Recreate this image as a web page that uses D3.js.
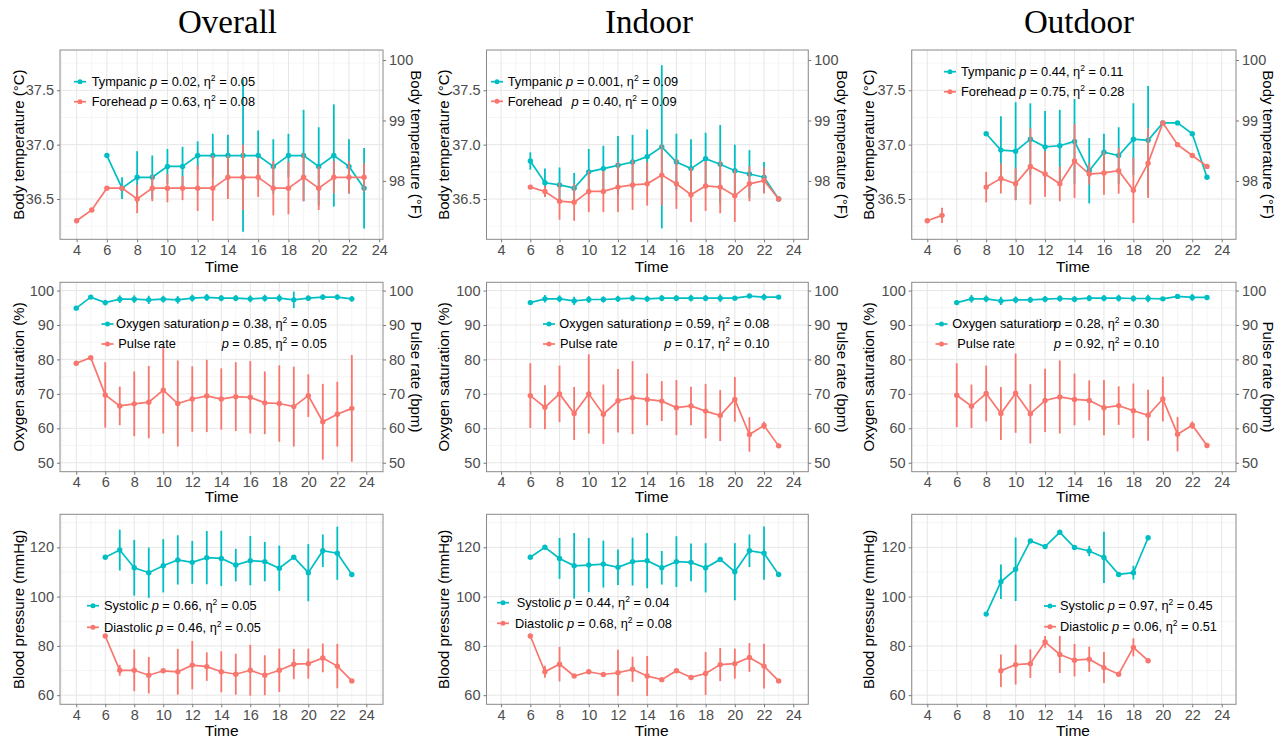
<!DOCTYPE html>
<html>
<head>
<meta charset="utf-8">
<script src="https://cdn.jsdelivr.net/npm/d3@7"></script>
<style>
  body { margin: 0; background: #fff; }
  text { font-family: "Liberation Sans", Arial, sans-serif; }
</style>
</head>
<body>
<div id="chart"></div>
<script>
// hours of the day, index 0 = 4h ... index 19 = 23h
const hours = d3.range(4, 24);

// ---- body temperature (°C), mean and SD ----
const tympOverall   = [null, null, 36.9, 36.6, 36.7, 36.7, 36.8, 36.8, 36.9, 36.9, 36.9, 36.9, 36.9, 36.8, 36.9, 36.9, 36.8, 36.9, 36.8, 36.6];
const tympOverallSd = [0, 0, 0, 0.1, 0.24, 0.2, 0.16, 0.18, 0.13, 0.2, 0.19, 0.7, 0.23, 0.25, 0.2, 0.42, 0.36, 0.47, 0.25, 0.37];
const foreOverall   = [36.3, 36.4, 36.6, 36.6, 36.5, 36.6, 36.6, 36.6, 36.6, 36.6, 36.7, 36.7, 36.7, 36.6, 36.6, 36.7, 36.6, 36.7, 36.7, 36.7];
const foreOverallSd = [0, 0, 0, 0, 0.13, 0.12, 0.13, 0.11, 0.21, 0.3, 0.2, 0.3, 0.18, 0.25, 0.24, 0.22, 0.2, 0.15, 0.15, 0.13];

const tympIndoor   = [null, null, 36.85, 36.65, 36.63, 36.6, 36.75, 36.78, 36.81, 36.84, 36.89, 36.98, 36.84, 36.78, 36.87, 36.82, 36.76, 36.73, 36.7, 36.5];
const tympIndoorSd = [0, 0, 0.08, 0.13, 0.16, 0.14, 0.21, 0.21, 0.27, 0.25, 0.25, 0.75, 0.26, 0.27, 0.24, 0.36, 0.24, 0.22, 0.14, 0];
const foreIndoor   = [null, null, 36.61, 36.57, 36.48, 36.47, 36.57, 36.57, 36.61, 36.63, 36.64, 36.72, 36.64, 36.54, 36.62, 36.61, 36.53, 36.64, 36.67, 36.5];
const foreIndoorSd = [0, 0, 0, 0.05, 0.17, 0.17, 0.19, 0.19, 0.23, 0.23, 0.2, 0.28, 0.23, 0.25, 0.23, 0.24, 0.24, 0.16, 0.12, 0];

const tympOutdoor   = [null, null, null, null, 37.1, 36.95, 36.94, 37.05, 36.98, 36.99, 37.03, 36.76, 36.93, 36.9, 37.05, 37.04, 37.2, 37.2, 37.1, 36.7];
const tympOutdoorSd = [0, 0, 0, 0, 0, 0.31, 0.45, 0.33, 0.33, 0.33, 0.39, 0.3, 0.17, 0.26, 0.33, 0.5, 0, 0, 0, 0];
const foreOutdoor   = [36.3, 36.35, null, null, 36.61, 36.69, 36.64, 36.8, 36.73, 36.64, 36.85, 36.73, 36.74, 36.76, 36.58, 36.83, 37.2, 37.0, 36.9, 36.8];
const foreOutdoorSd = [0, 0.07, 0, 0, 0.14, 0.14, 0.15, 0.35, 0.21, 0.16, 0.34, 0.1, 0.2, 0.21, 0.3, 0.32, 0, 0, 0, 0];

// ---- oxygen saturation (%) and pulse rate (bpm) ----
const o2Overall   = [94.9, 98.1, 96.5, 97.5, 97.5, 97.3, 97.5, 97.3, 97.8, 98.0, 97.8, 97.8, 97.6, 97.8, 97.8, 97.3, 97.8, 98.1, 98.1, 97.6];
const o2OverallSd = [0, 0, 0.8, 1.1, 1.1, 1.2, 1.0, 1.1, 1.0, 1.0, 0.9, 0.9, 1.0, 1.0, 1.1, 2.4, 0.8, 0.8, 0.8, 0.8];
const pulseOverall   = [78.9, 80.5, 69.7, 66.5, 67.1, 67.6, 71.1, 67.2, 68.5, 69.4, 68.5, 69.2, 69.0, 67.4, 67.2, 66.3, 69.5, 61.9, 64.1, 65.8];
const pulseOverallSd = [0, 0, 9.5, 5.6, 9.4, 10.5, 12.6, 12.5, 9.5, 10.5, 8.9, 10, 10.5, 9.1, 11.1, 11.6, 6.2, 11, 9.4, 15.5];

const o2Indoor   = [null, null, 96.5, 97.6, 97.6, 97.0, 97.4, 97.4, 97.6, 97.8, 97.6, 97.8, 97.8, 97.8, 97.8, 97.8, 97.8, 98.4, 98.1, 98.1];
const o2IndoorSd = [0, 0, 0.6, 1.1, 1.0, 1.2, 1.0, 0.9, 0.9, 0.9, 0.9, 0.9, 0.9, 1.0, 0.9, 1.1, 0, 0.5, 1.0, 0];
const pulseIndoor   = [null, null, 69.5, 66.1, 70.0, 64.3, 70.0, 64.1, 68.0, 68.9, 68.4, 67.9, 66.0, 66.5, 65.0, 63.7, 68.4, 58.2, 60.8, 54.9];
const pulseIndoorSd = [0, 0, 9.4, 6.4, 8.2, 7.7, 11.5, 8.6, 9.2, 10.6, 7.5, 5.8, 8.0, 5.6, 7.9, 7.4, 6.5, 5.0, 1.1, 0];

const o2Outdoor   = [null, null, 96.5, 97.6, 97.6, 97.0, 97.3, 97.3, 97.5, 97.7, 97.5, 97.8, 97.8, 97.8, 97.7, 97.7, 97.6, 98.3, 98.0, 98.0];
const o2OutdoorSd = [0, 0, 0.7, 1.1, 1.0, 1.2, 1.0, 0.9, 0.9, 0.9, 0.9, 0.9, 0.9, 1.0, 0.9, 1.1, 0, 0.5, 1.0, 0];
const pulseOutdoor   = [null, null, 69.6, 66.4, 70.1, 64.3, 70.2, 64.2, 68.1, 69.1, 68.4, 68.1, 66.0, 66.6, 65.1, 63.8, 68.5, 58.3, 60.9, 55.0];
const pulseOutdoorSd = [0, 0, 9.3, 6.3, 8.1, 7.7, 11.5, 8.6, 9.2, 10.6, 7.5, 5.8, 8.0, 5.6, 7.9, 7.4, 6.5, 5.0, 1.1, 0];

// ---- blood pressure (mmHg) ----
const sysOverall   = [null, null, 116, 118.9, 111.7, 109.7, 112.5, 114.9, 113.9, 115.8, 115.5, 112.8, 114.6, 114.2, 111.5, 116, 109.7, 118.6, 117.6, 109];
const sysOverallSd = [0, 0, 0, 8.3, 11.3, 10.2, 10.8, 10, 8.7, 10.8, 11.2, 6.6, 10, 8, 9.2, 0, 11.6, 6.6, 10.8, 0];
const diaOverall   = [null, null, 84, 70.1, 70.1, 68.1, 69.9, 69.5, 72.2, 71.6, 69.5, 68.5, 70.1, 68.1, 70.1, 72.6, 72.8, 75.1, 71.8, 65.8];
const diaOverallSd = [0, 0, 0, 2.2, 8.5, 7.4, 0, 9.3, 9.8, 5.8, 8.3, 8.3, 10.3, 8.1, 8.8, 6.1, 6.1, 5.8, 9, 0];

const sysIndoor   = [null, null, 116, 120, 115.5, 112.5, 112.8, 113.2, 111.9, 114.2, 114.6, 111.7, 114.2, 113.9, 111.7, 115.1, 110.1, 118.6, 117.6, 109];
const sysIndoorSd = [0, 0, 0, 0, 8.3, 13.3, 11, 9.5, 7.2, 9.7, 11.2, 6.8, 10.3, 7.7, 10, 0, 11.6, 6.6, 10.8, 0];
const diaIndoor   = [null, null, 84, 69.5, 72.6, 67.8, 69.5, 68.4, 69.1, 70.5, 67.8, 66.3, 69.9, 67.2, 68.8, 72.4, 72.8, 75.3, 71.8, 65.8];
const diaIndoorSd = [0, 0, 0, 2.4, 7, 0, 0, 0, 9.3, 5.1, 8.1, 0, 0, 0, 8.7, 6.7, 6.1, 5.8, 9.1, 0];

const sysOutdoor   = [null, null, null, null, 92.9, 106, 111.1, 122.6, 120.3, 126.1, 119.9, 118.5, 115.9, 109, 109.7, 123.9, null, null, null, null];
const sysOutdoorSd = [0, 0, 0, 0, 0, 7, 12.9, 0, 0, 0, 0, 2.1, 10.4, 0, 2.8, 0, 0, 0, 0, 0];
const diaOutdoor   = [null, null, null, null, null, 69.9, 72.4, 72.8, 81.6, 76.5, 74.2, 74.6, 71.2, 68.5, 79.4, 74, null, null, null, null];
const diaOutdoorSd = [0, 0, 0, 0, 0, 6.6, 8.1, 5.8, 2.4, 7.5, 6.6, 5.1, 6.3, 0, 3.7, 0, 0, 0, 0, 0];

// tick labels
const xTicks = d3.range(4, 25, 2);
const tempTicks = [36.5, 37.0, 37.5];
const tempFTicks = [98, 99, 100];
const o2Ticks = [50, 60, 70, 80, 90, 100];
const bpTicks = [60, 80, 100, 120];

const colTitles = ["Overall", "Indoor", "Outdoor"];

const teal = "#00BFC4", salmon = "#F8766D";
const W = 1285, H = 738;
const legendSize = 12.8;

const svg = d3.select("#chart").append("svg")
  .attr("width", W).attr("height", H);
svg.append("rect").attr("width", W).attr("height", H).attr("fill", "#fff");

// each column was a separate image, clip to it
const colClip = [[0, 424], [424, 855], [855, W]];
colClip.forEach(([a, b], i) => {
  svg.append("clipPath").attr("id", "col" + i)
    .append("rect").attr("x", a).attr("y", 0).attr("width", b - a).attr("height", H);
});

// layout of rows and columns
const rows = [
  { top: 50, bottom: 239.3, dom: [36.13, 37.87], ticks: tempTicks, minor: [36.25, 36.75, 37.25, 37.75],
    fmt: d3.format(".1f"), left: "Body temperature (°C)", right: "Body temperature (°F)",
    rTicks: tempFTicks, rConv: f => (f - 32) / 1.8, timeY: 266.7 },
  { top: 282.3, bottom: 471.7, dom: [47.4, 102.4], ticks: o2Ticks, minor: [55, 65, 75, 85, 95],
    fmt: d3.format("d"), left: "Oxygen saturation (%)", right: "Pulse rate (bpm)",
    rTicks: o2Ticks, rConv: f => f, timeY: 496.7 },
  { top: 514.3, bottom: 704.3, dom: [56.3, 133.4], ticks: bpTicks, minor: [70, 90, 110, 130],
    fmt: d3.format("d"), left: "Blood pressure (mmHg)", right: null, timeY: 731 }
];
const cols = [
  { left: 60, right: 383, titleX: 227.5, yTitleX: 18.3, rTitleX: 416.7, timeX: 221.7 },
  { left: 486.5, right: 808.3, titleX: 649, yTitleX: 443.3, rTitleX: 842.5, timeX: 651.7 },
  { left: 911.7, right: 1236, titleX: 1079, yTitleX: 868.3, rTitleX: 1268.3, timeX: 1073 }
];

const panels = [
  { row: 0, col: 0, xDom: [2.9, 24.25],
    series: [[tympOverall, tympOverallSd, teal], [foreOverall, foreOverallSd, salmon]],
    legend: { kx: 80, ys: [81.7, 101.7], items: [
      { name: "Tympanic", tx: 91.7, p: "0.02", eta: "0.05", color: teal },
      { name: "Forehead", tx: 91.7, p: "0.63", eta: "0.08", color: salmon }] } },
  { row: 0, col: 1, xDom: [3.0, 25.03],
    series: [[tympIndoor, tympIndoorSd, teal], [foreIndoor, foreIndoorSd, salmon]],
    legend: { kx: 497, ys: [81.7, 101.3], items: [
      { name: "Tympanic", tx: 507.7, p: "0.001", eta: "0.09", color: teal },
      { name: "Forehead", tx: 507.7, px: 571.5, p: "0.40", eta: "0.09", color: salmon }] } },
  { row: 0, col: 2, xDom: [2.94, 24.97],
    series: [[tympOutdoor, tympOutdoorSd, teal], [foreOutdoor, foreOutdoorSd, salmon]],
    legend: { kx: 950, ys: [71.7, 91.7], items: [
      { name: "Tympanic", tx: 961, p: "0.44", eta: "0.11", color: teal },
      { name: "Forehead", tx: 961, p: "0.75", eta: "0.28", color: salmon }] } },
  { row: 1, col: 0, xDom: [2.88, 25.15],
    series: [[o2Overall, o2OverallSd, teal], [pulseOverall, pulseOverallSd, salmon]],
    legend: { kx: 107.5, ys: [324, 344], items: [
      { name: "Oxygen saturation", tx: 116, px: 221.7, p: "0.38", eta: "0.05", color: teal },
      { name: "Pulse rate", tx: 118.3, px: 221.7, p: "0.85", eta: "0.05", color: salmon }] } },
  { row: 1, col: 1, xDom: [3.0, 25.03],
    series: [[o2Indoor, o2IndoorSd, teal], [pulseIndoor, pulseIndoorSd, salmon]],
    legend: { kx: 549, ys: [324, 344], items: [
      { name: "Oxygen saturation", tx: 559.3, px: 664.3, p: "0.59", eta: "0.08", color: teal },
      { name: "Pulse rate", tx: 560, px: 664.3, p: "0.17", eta: "0.10", color: salmon }] } },
  { row: 1, col: 2, xDom: [2.94, 24.97],
    series: [[o2Outdoor, o2OutdoorSd, teal], [pulseOutdoor, pulseOutdoorSd, salmon]],
    legend: { kx: 941.5, ys: [324, 344], items: [
      { name: "Oxygen saturation", tx: 952.3, px: 1054, p: "0.28", eta: "0.30", color: teal },
      { name: "Pulse rate", tx: 957.3, px: 1054, p: "0.92", eta: "0.10", color: salmon }] } },
  { row: 2, col: 0, xDom: [2.88, 25.15],
    series: [[sysOverall, sysOverallSd, teal], [diaOverall, diaOverallSd, salmon]],
    legend: { kx: 93, ys: [605.7, 627.3], items: [
      { name: "Systolic", tx: 104, p: "0.66", eta: "0.05", color: teal },
      { name: "Diastolic", tx: 104, p: "0.46", eta: "0.05", color: salmon }] } },
  { row: 2, col: 1, xDom: [3.0, 25.03],
    series: [[sysIndoor, sysIndoorSd, teal], [diaIndoor, diaIndoorSd, salmon]],
    legend: { kx: 503, ys: [602.7, 623.3], items: [
      { name: "Systolic", tx: 516.7, p: "0.44", eta: "0.04", color: teal },
      { name: "Diastolic", tx: 515, p: "0.68", eta: "0.08", color: salmon }] } },
  { row: 2, col: 2, xDom: [2.94, 24.97],
    series: [[sysOutdoor, sysOutdoorSd, teal], [diaOutdoor, diaOutdoorSd, salmon]],
    legend: { kx: 1050, ys: [606, 626.7], items: [
      { name: "Systolic", tx: 1060, p: "0.97", eta: "0.45", color: teal },
      { name: "Diastolic", tx: 1060, p: "0.06", eta: "0.51", color: salmon }] } }
];

// column titles
colTitles.forEach((t, i) => {
  svg.append("text")
    .attr("x", cols[i].titleX).attr("y", 33)
    .attr("text-anchor", "middle")
    .style("font-family", "'Liberation Serif', 'Times New Roman', serif")
    .attr("font-size", 33)
    .attr("fill", "#000")
    .text(t);
});

// writes "p = 0.02, η2 = 0.05" into a text element
function pText(t, p, eta) {
  t.append("tspan").attr("font-style", "italic").text("p");
  t.append("tspan").text(" = " + p + ", η");
  t.append("tspan").attr("font-size", "8.5px").attr("dy", -5).text("2");
  t.append("tspan").attr("dy", 5).text(" = " + eta);
}

panels.forEach(p => {
  const r = rows[p.row], c = cols[p.col];
  const g = svg.append("g").attr("clip-path", `url(#col${p.col})`);

  const x = d3.scaleLinear().domain(p.xDom).range([c.left, c.right]);
  const y = d3.scaleLinear().domain(r.dom).range([r.bottom, r.top]);

  // grid
  const xMinor = d3.range(3, 26, 2).filter(v => v > p.xDom[0] && v < p.xDom[1]);
  g.append("g").selectAll("line").data(xMinor).join("line")
    .attr("x1", d => x(d)).attr("x2", d => x(d))
    .attr("y1", r.top).attr("y2", r.bottom)
    .attr("stroke", "#f2f2f2").attr("stroke-width", 0.8);
  g.append("g").selectAll("line").data(r.minor).join("line")
    .attr("x1", c.left).attr("x2", c.right)
    .attr("y1", d => y(d)).attr("y2", d => y(d))
    .attr("stroke", "#f2f2f2").attr("stroke-width", 0.8);
  g.append("g").selectAll("line").data(xTicks).join("line")
    .attr("x1", d => x(d)).attr("x2", d => x(d))
    .attr("y1", r.top).attr("y2", r.bottom)
    .attr("stroke", "#e6e6e6").attr("stroke-width", 1);
  g.append("g").selectAll("line").data(r.ticks).join("line")
    .attr("x1", c.left).attr("x2", c.right)
    .attr("y1", d => y(d)).attr("y2", d => y(d))
    .attr("stroke", "#e6e6e6").attr("stroke-width", 1);

  // series: error bars, line, points
  p.series.forEach(([vals, sd, color]) => {
    const pts = hours.map((h, i) => ({ h, v: vals[i], s: sd[i] }));
    const ok = pts.filter(d => d.v != null);
    g.append("g").selectAll("line").data(ok.filter(d => d.s > 0)).join("line")
      .attr("x1", d => x(d.h)).attr("x2", d => x(d.h))
      .attr("y1", d => y(d.v - d.s)).attr("y2", d => y(d.v + d.s))
      .attr("stroke", color).attr("stroke-width", 1.8);
    const line = d3.line().defined(d => d.v != null).x(d => x(d.h)).y(d => y(d.v));
    g.append("path").datum(pts).attr("d", line)
      .attr("fill", "none").attr("stroke", color).attr("stroke-width", 1.7);
    g.append("g").selectAll("circle").data(ok).join("circle")
      .attr("cx", d => x(d.h)).attr("cy", d => y(d.v)).attr("r", 2.7)
      .attr("fill", color);
  });

  // panel border
  g.append("rect")
    .attr("x", c.left).attr("y", r.top)
    .attr("width", c.right - c.left).attr("height", r.bottom - r.top)
    .attr("fill", "none").attr("stroke", "#8a8a8a").attr("stroke-width", 1);

  // axes
  const styleAxis = a => {
    a.select(".domain").remove();
    a.selectAll(".tick line").attr("stroke", "#777");
    a.selectAll(".tick text").attr("fill", "#4d4d4d").attr("font-size", 14.5)
      .style("font-family", "'Liberation Sans', Arial, sans-serif");
  };
  g.append("g").attr("transform", `translate(0,${r.bottom})`)
    .call(d3.axisBottom(x).tickValues(xTicks).tickSize(3).tickPadding(2))
    .call(styleAxis);
  g.append("g").attr("transform", `translate(${c.left},0)`)
    .call(d3.axisLeft(y).tickValues(r.ticks).tickFormat(r.fmt).tickSize(3).tickPadding(3))
    .call(styleAxis);
  if (r.right) {
    g.append("g").attr("transform", `translate(${c.right},0)`)
      .call(d3.axisRight(y).tickValues(r.rTicks.map(r.rConv)).tickFormat((d, i) => r.rTicks[i]).tickSize(3).tickPadding(3))
      .call(styleAxis);
  }

  // axis titles
  g.append("text")
    .attr("x", c.timeX).attr("y", r.timeY).attr("dy", "0.35em")
    .attr("text-anchor", "middle").attr("font-size", 15.5).attr("fill", "#000")
    .text("Time");
  const yMid = (r.top + r.bottom) / 2;
  g.append("text")
    .attr("transform", `translate(${c.yTitleX},${yMid}) rotate(-90)`)
    .attr("dy", "0.35em").attr("text-anchor", "middle")
    .attr("font-size", 15).attr("fill", "#000")
    .text(r.left);
  if (r.right) {
    g.append("text")
      .attr("transform", `translate(${c.rTitleX},${yMid}) rotate(90)`)
      .attr("dy", "0.35em").attr("text-anchor", "middle")
      .attr("font-size", 15).attr("fill", "#000")
      .text(r.right);
  }

  // legend
  const leg = p.legend;
  leg.items.forEach((it, i) => {
    const ly = leg.ys[i];
    g.append("line")
      .attr("x1", leg.kx - 6).attr("x2", leg.kx + 6).attr("y1", ly).attr("y2", ly)
      .attr("stroke", it.color).attr("stroke-width", 1.7);
    g.append("circle").attr("cx", leg.kx).attr("cy", ly).attr("r", 2.5).attr("fill", it.color);
    const t = g.append("text")
      .attr("x", it.tx).attr("y", ly).attr("dy", "0.35em")
      .attr("font-size", legendSize).attr("fill", "#000")
      .style("white-space", "pre");
    t.append("tspan").text(it.px ? it.name : it.name + " ");
    if (it.px) {
      const t2 = g.append("text")
        .attr("x", it.px).attr("y", ly).attr("dy", "0.35em")
        .attr("font-size", legendSize).attr("fill", "#000")
        .style("white-space", "pre");
      pText(t2, it.p, it.eta);
    } else {
      pText(t, it.p, it.eta);
    }
  });
});
</script>
</body>
</html>
